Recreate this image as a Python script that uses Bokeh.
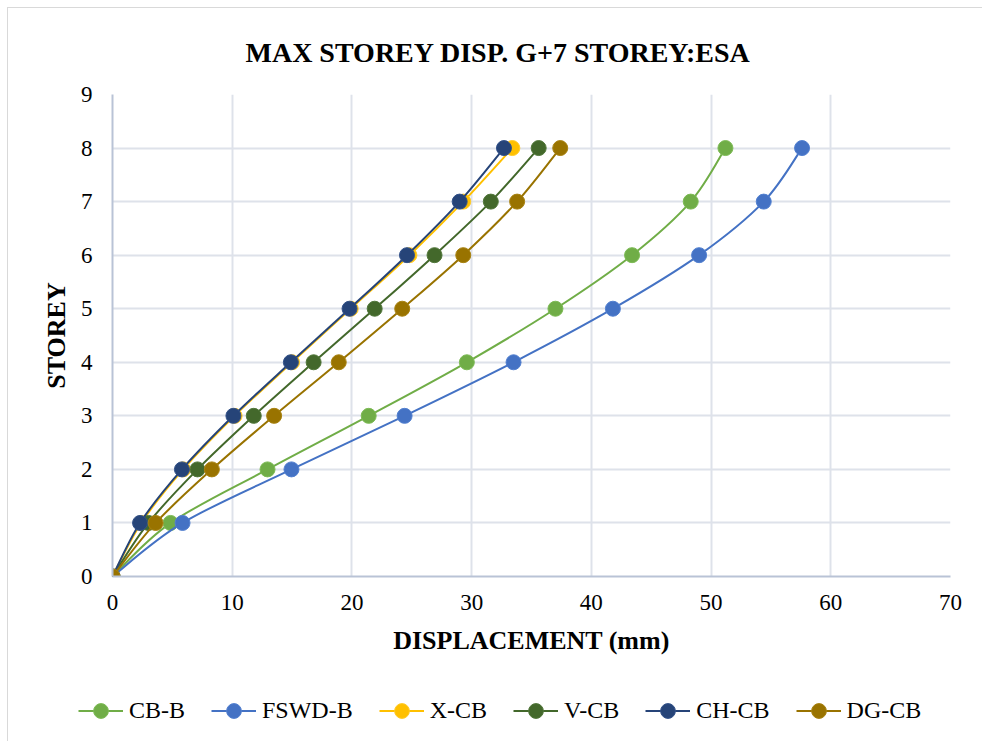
from bokeh.plotting import figure
from bokeh.models import Legend, LegendItem, FixedTicker, ColumnDataSource
from bokeh.embed import file_html
from bokeh.resources import INLINE

storeys = [0, 1, 2, 3, 4, 5, 6, 7, 8]
cb_b = [0, 4.85, 12.95, 21.4, 29.6, 37.0, 43.4, 48.3, 51.2]
fswd_b = [0, 5.85, 14.95, 24.4, 33.5, 41.8, 49.0, 54.4, 57.6]
x_cb = [0, 2.4, 5.9, 10.2, 15.0, 19.9, 24.8, 29.3, 33.4]
v_cb = [0, 3.0, 7.1, 11.8, 16.8, 21.9, 26.9, 31.6, 35.6]
ch_cb = [0, 2.3, 5.8, 10.1, 14.9, 19.8, 24.6, 29.0, 32.7]
dg_cb = [0, 3.6, 8.3, 13.5, 18.9, 24.2, 29.3, 33.8, 37.4]

series_names = ["CB-B", "FSWD-B", "X-CB", "V-CB", "CH-CB", "DG-CB"]
series_values = [cb_b, fswd_b, x_cb, v_cb, ch_cb, dg_cb]
colors = ["#70AD47", "#4472C4", "#FFC000", "#43682B", "#264478", "#997300"]
outline = ["#7DBB55", "#5280D0", "#FFCB2A", "#51773A", "#33528A", "#A88210"]

x_ticks = [0, 10, 20, 30, 40, 50, 60, 70]
y_ticks = [0, 1, 2, 3, 4, 5, 6, 7, 8, 9]

SERIF = "Liberation Serif"

p = figure(width=975, height=664, x_range=(0, 70), y_range=(0, 9),
           output_backend="svg", toolbar_location=None,
           min_border_left=104, min_border_right=33,
           min_border_top=84, min_border_bottom=96)
p.styles = {"margin-left": "7px", "margin-top": "7px",
            "border-top": "1px solid #d9d9d9", "border-left": "1px solid #d9d9d9"}

p.title.text = "MAX STOREY DISP. G+7 STOREY:ESA"
p.title.text_font = SERIF
p.title.text_font_size = "28px"
p.title.text_font_style = "bold"
p.title.align = "left"
p.title.offset = 133
p.title.standoff = 53
p.title.text_color = "#000000"

p.outline_line_color = None
p.background_fill_color = "white"
p.border_fill_color = "white"

for ax in (p.xaxis[0], p.yaxis[0]):
    ax.major_tick_line_color = None
    ax.minor_tick_line_color = None
    ax.major_tick_out = 0
    ax.major_tick_in = 0
    ax.axis_line_color = "#B9C3D6"
    ax.axis_line_width = 2
    ax.major_label_text_font = SERIF
    ax.major_label_text_font_size = "23px"
    ax.major_label_text_color = "#000000"
    ax.axis_label_text_font = SERIF
    ax.axis_label_text_font_size = "26px"
    ax.axis_label_text_font_style = "bold"
    ax.axis_label_text_color = "#000000"

p.xaxis.ticker = FixedTicker(ticks=x_ticks)
p.yaxis.ticker = FixedTicker(ticks=y_ticks)
p.xaxis.axis_label = "DISPLACEMENT (mm)"
p.yaxis.axis_label = "STOREY"
p.xaxis.major_label_standoff = 18
p.yaxis.major_label_standoff = 20
p.xaxis.axis_label_standoff = 13
p.yaxis.axis_label_standoff = 7

p.xgrid.ticker = FixedTicker(ticks=x_ticks)
p.ygrid.ticker = FixedTicker(ticks=y_ticks)
p.grid.grid_line_color = "#DEE2EA"
p.grid.grid_line_width = 2


def bezier_segments(xs, ys):
    n = len(xs)
    d = dict(x0=[], y0=[], x1=[], y1=[], cx0=[], cy0=[], cx1=[], cy1=[])
    for i in range(n - 1):
        a = max(i - 1, 0)
        b = min(i + 2, n - 1)
        d["x0"].append(xs[i]); d["y0"].append(ys[i])
        d["x1"].append(xs[i + 1]); d["y1"].append(ys[i + 1])
        d["cx0"].append(xs[i] + (xs[i + 1] - xs[a]) / 6.0)
        d["cy0"].append(ys[i] + (ys[i + 1] - ys[a]) / 6.0)
        d["cx1"].append(xs[i + 1] - (xs[b] - xs[i]) / 6.0)
        d["cy1"].append(ys[i + 1] - (ys[b] - ys[i]) / 6.0)
    return d


# legend strip: its own small figure under the chart (its ranges keep the
# proxy series out of view, only the legend is seen)
pl = figure(width=975, height=70, output_backend="svg", toolbar_location=None,
            x_axis_type=None, y_axis_type=None, min_border=0,
            x_range=(1000, 1001), y_range=(1000, 1001))
pl.outline_line_color = None
pl.grid.visible = False
pl.styles = {"margin-left": "7px", "border-left": "1px solid #d9d9d9"}

items = []
for name, vals, col, oc in zip(series_names, series_values, colors, outline):
    src = ColumnDataSource(bezier_segments(vals, storeys))
    p.bezier(x0="x0", y0="y0", x1="x1", y1="y1", cx0="cx0", cy0="cy0",
             cx1="cx1", cy1="cy1", source=src, line_color=col, line_width=2)
    p.scatter(vals, storeys, size=15, fill_color=col, line_color=oc, line_width=1)
    leg_line = pl.line(vals, storeys, line_color=col, line_width=2)
    leg_mark = pl.scatter(vals, storeys, size=15, fill_color=col, line_color=oc, line_width=1)
    items.append(LegendItem(label=name, renderers=[leg_line, leg_mark]))

legend = Legend(items=items, orientation="horizontal", location=(70, 12),
                glyph_width=45, glyph_height=37, label_standoff=6, spacing=26,
                padding=0, margin=0, border_line_color=None,
                background_fill_alpha=0,
                label_text_font=SERIF, label_text_font_size="24px",
                label_text_color="#000000")
pl.add_layout(legend, "center")

open("out.html", "w").write(file_html([p, pl], INLINE))
